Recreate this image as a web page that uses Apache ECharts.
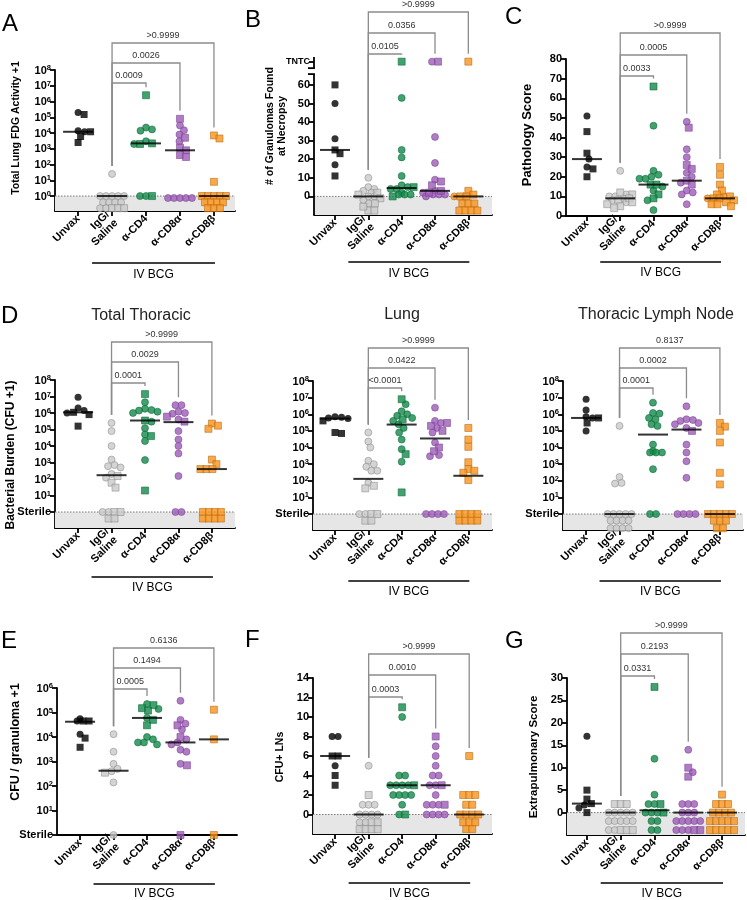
<!DOCTYPE html>
<html><head><meta charset="utf-8">
<script src="https://cdn.jsdelivr.net/npm/echarts@6/dist/echarts.min.js"></script>
<style>html,body{margin:0;padding:0;background:#fff}#c{width:747px;height:900px}</style>
</head><body><div id="c"></div>
<script>
// ---------------- DATA ----------------
const categories = ['Unvax', 'IgG/\nSaline', 'α-CD4', 'α-CD8α', 'α-CD8β'];
const TNTC = 72.5; // axis position of the "TNTC" label in panel B

// Panel A: Total Lung FDG Activity +1 (log scale; values below 1 are the stacked zero rows)
const A_circle = [[2e5, 1.4e4, 1.2e4], [25, 1, 1, 1, 1, 1, 0.4, 0.4, 0.4, 0.4, 0.17, 0.17], [2.2e4, 1.7e4, 1.4e4, 3e3, 2e3, 1, 1], [3e4, 1.5e4, 8e3, 3e3, 0.75, 0.75, 0.75, 0.75, 0.75], []];
const A_square = [[1.5e5, 1.2e4, 6e3, 2.5e3], [0.17, 0.17, 0.17], [2.5e6, 2.2e3, 2e3, 1], [8e4, 5e3, 1.2e3, 8e2, 4e2, 3e2], [7e3, 4.5e3, 8, 1, 1, 1, 1, 1, 0.4, 0.4, 0.4, 0.4, 0.17, 0.17, 0.17]];
const A_median = [1.2e4, 1, 2.2e3, 8e2, 1];
const A_p = ['0.0009', '0.0026', '>0.9999'];

// Panel B: # of granulomas found at necropsy
const B_circle = [[50, 31, 17], [10, 5, 4, 3, 2, 0, 0, -2, -3.8], [53, 25, 21, 11, 6, 5, 4, 4, 2, 1, 1, 1], [TNTC, 32, 18, 9, 3, 2, 1, 1, 1, 0], [0]];
const B_square = [[60, 25, 23, 11], [2, 1, -1, -3.8, -7.6, -7.6, -5.5], [TNTC, 5, 0], [TNTC, 8, 6, 3, 2], [TNTC, 3, 1, 0, 0, -3.8, -3.8, -3.8, -7.6, -7.6, -7.6, -7.6]];
const B_median = [25, 0, 4.5, 3, 0];
const B_p = ['0.0105', '0.0356', '>0.9999'];

// Panel C: Pathology score
const C_circle = [[51, 29, 25], [23, 11, 10, 10, 9, 8, 7], [46, 23, 21, 20, 19, 19, 15, 13, 8, 3], [48, 34, 30, 22, 20, 17, 13, 12, 11, 6], [10, 9]];
const C_square = [[43, 32, 24, 20], [12, 11, 9, 8, 7, 6, 5, 4], [66, 16, 16, 11, 9], [45, 26, 24, 18, 16], [25, 21, 16, 13, 11, 10, 9, 9, 8, 7, 6, 6, 5]];
const C_median = [29, 9, 16, 18, 9];
const C_p = ['0.0033', '0.0005', '>0.9999'];

// Panel D: Total Thoracic CFU +1
const TT_circle = [[9e6, 2e6, 1.4e6, 1e6], [2.5e5, 8e4, 1e4, 1.5e3, 7e2, 6e2, 5e2, 2e2, 1.2e2, 1, 1], [4.5e6, 1.8e6, 1.5e6, 1.4e6, 1.2e6, 1e6, 3e5, 1.2e5, 5e4, 2e4, 1.4e3], [3e6, 3e6, 1.2e6, 1e6, 9e5, 4e5, 8e4, 2.5e4, 1e4, 3.5e3, 1.5e2, 1, 1], []];
const TT_square = [[1.1e6, 8e5, 1.6e5], [1.5e2, 60, 30, 1, 1, 0.4, 0.4], [1.4e7, 3.5e5, 4e4, 20], [6e5, 3e5], [2.3e5, 1.7e5, 1.1e5, 1.5e3, 8e2, 4e2, 4e2, 4e2, 1, 1, 1, 1, 0.4, 0.4, 0.4, 0.4]];
const TT_median = [1.1e6, 1.7e2, 3.5e5, 2.8e5, 4e2];
const TT_p = ['0.0001', '0.0029', '>0.9999'];

// Panel D: Lung CFU +1
const LU_circle = [[7e5, 6.5e5, 6e5, 5.5e5], [8e4, 2.3e4, 1e4, 1.6e3, 1e3, 7e2, 4e2, 4e2, 75, 1, 1], [4e6, 1.5e6, 1e6, 8e5, 6e5, 4e5, 2.5e5, 1.5e5, 8e4, 3e4, 8e3, 1.4e3], [2.5e6, 4e5, 3e5, 1.5e5, 8e4, 2e4, 3.5e3, 3e3, 1, 1, 1, 1], []];
const LU_square = [[4e5, 8e4, 7e4], [50, 35, 1, 1, 0.4, 0.4], [8e6, 5e5, 4e3, 20], [3e5, 2e5, 1e5, 1e4, 6e3], [1.5e5, 3e4, 1.1e4, 1.3e3, 5e2, 4e2, 3e2, 1.1e2, 1, 1, 1, 1, 0.4, 0.4, 0.4, 0.4]];
const LU_median = [5.5e5, 1.3e2, 2.4e5, 3.5e4, 2e2];
const LU_p = ['<0.0001', '0.0422', '>0.9999'];

// Panel D: Thoracic lymph node CFU +1
const LN_circle = [[8e6, 1.8e6, 7e5, 6e5, 1e5], [2e5, 1.7e2, 74, 68, 1, 1, 1, 1, 1, 0.4, 0.4, 0.4, 0.4, 0.14, 0.14, 0.14, 0.14], [5e6, 1.2e6, 1.1e6, 6e5, 5e5, 2.5e5, 2e5, 1.5e4, 6e3, 5e3, 5e3, 5e3, 5e2, 1, 1], [3e6, 5e5, 4.5e5, 4e5, 3e5, 2.5e5, 1.5e5, 1.5e4, 5e3, 1.5e3, 1.5e2, 1, 1, 1, 1], []];
const LN_square = [[6e5, 3e5], [], [], [1e5], [3e5, 1.8e5, 1e5, 2e4, 3e2, 60, 1, 1, 1, 1, 1, 0.4, 0.4, 0.4, 0.14, 0.14]];
const LN_median = [6e5, 1, 6e4, 1.2e5, 1];
const LN_p = ['0.0001', '0.0002', '0.8137'];

// Panel E: CFU / granuloma +1
const E_circle = [[5.5e4, 4.5e4, 1.3e4], [1.3e4, 2.5e3, 8e2, 5e2, 4e2, 1.4e2, 1], [2.2e5, 1.4e5, 6e4, 1e4, 8e3, 6e3, 6e3, 5e3], [3e5, 5e4, 3.5e4, 2e4, 8e3, 6e3, 5e3, 3e3, 2.5e3, 8e2], []];
const E_square = [[4.5e4, 4.5e4, 9e3, 3.8e3], [3.5e2], [2e5, 1.5e5, 1.2e5, 5e4, 3e4], [3e4, 1e4, 7e2, 1], [1.3e5, 8e3, 1]];
const E_median = [4.2e4, 4.2e2, 6e4, 6e3, 8e3];
const E_p = ['0.0005', '0.1494', '0.6136'];

// Panel F: CFU+ LNs
const F_circle = [[8, 8, 5], [5, 1, 1, 1, 0, 0, 0, 0, -0.8, -0.8], [10, 4, 4, 3, 3, 3, 3, 2, 2, 2, 2, 1, 0], [7, 6, 5, 4, 4, 3, 3, 2, 1, 1, 1, 0, 0, 0, 0], []];
const F_square = [[6, 6, 4, 3], [2, -0.8, -0.8, -1.5, -1.5, -1.5, -1.5], [11, 3, 0], [8, 3, 1], [6, 2, 2, 2, 1, 1, 0, 0, 0, 0, -0.8, -0.8, -0.8, -1.5, -1.5]];
const F_median = [6, 0, 3, 3, 0];
const F_p = ['0.0003', '0.0010', '>0.9999'];

// Panel G: Extrapulmonary score
const G_circle = [[17, 1.7, 1], [0, 0, 0, 0, 0, -1.9, -1.9, -1.9, -1.9, -1.9, -3.9, -3.9], [12, 4, 1.9, 1.9, 0, 0, 0, -1.9, -1.9, -3.9, -3.9], [14, 9, 1.9, 1.9, 1.9, 0, 0, 0, -1.9, -1.9, -1.9, -1.9, -1.9, -3.9, -3.9, -3.9], []];
const G_square = [[5, 3, 2, 0], [1.9, 1.9, 1.9, -3.9, -3.9, -3.9], [28, 1.9, 0], [10, 8, -3.9, -3.9], [4, 1.9, 1.9, 1.9, 0, 0, 0, 0, -1.9, -1.9, -1.9, -1.9, -1.9, -3.9, -3.9, -3.9, -3.9, -3.9]];
const G_median = [2, 0, 0.5, 0, 0];
const G_p = ['0.0331', '0.2193', '>0.9999'];

// tick labels
const LOG8_ticks = [0, 1, 2, 3, 4, 5, 6, 7, 8];
const LOG6_ticks = [0, 1, 2, 3, 4, 5, 6];
const B_ticks = [0, 10, 20, 30, 40, 50, 60, TNTC];
const C_ticks = [0, 10, 20, 30, 40, 50, 60, 70, 80];
const F_ticks = [0, 2, 4, 6, 8, 10, 12, 14];
const G_ticks = [0, 5, 10, 15, 20, 25, 30];

// ---------------- LAYOUT / STYLE ----------------
const FONT = '"Liberation Sans", Arial, Helvetica, sans-serif';
const fills = ['#000000', '#c9c9c9', '#13894a', '#9c5cb7', '#f7941d'];
const borders = ['#000000', '#8a8a8a', '#0c6a37', '#7a4395', '#b9680f'];

const panels = [
  {circle: A_circle, square: A_square, median: A_median, p: A_p, log: true, sterile: false, ticks: LOG8_ticks,
   grid: {left: 55, top: 70, width: 180, height: 141}, x: [-0.68, 4.62], y: [-0.95, 8], zero: 0,
   brk: [83, 63, 43], bcg: [263, 275], letter: ['A', 2, 24], name: ['Total Lung FDG Activity +1', 16, 128, 10.5]},
  {circle: B_circle, square: B_square, median: B_median, p: B_p, log: false, ticks: B_ticks, broken: true,
   grid: {left: 314, top: 57, width: 178, height: 158}, x: [-0.63, 4.71], y: [-10, 75], zero: 0,
   brk: [54, 33, 12], bcg: [262, 274], letter: ['B', 245, 20], name: ['# of Granulomas Found\nat Necropsy', 276, 126, 10.5]},
  {circle: C_circle, square: C_square, median: C_median, p: C_p, log: false, ticks: C_ticks,
   grid: {left: 566, top: 59, width: 166, height: 157}, x: [-0.63, 4.36], y: [0, 80], zero: null,
   brk: [76, 55, 33], bcg: [262, 273], letter: ['C', 505, 17], name: ['Pathology Score', 527, 135, 13]},
  {circle: TT_circle, square: TT_square, median: TT_median, p: TT_p, log: true, sterile: true, ticks: LOG8_ticks,
   grid: {left: 55, top: 380, width: 180, height: 148}, x: [-0.69, 4.69], y: [-0.97, 8], zero: 0,
   brk: [383, 362, 342], bcg: [577, 588], letter: ['D', 1, 316], name: ['Bacterial Burden (CFU +1)', 11, 455, 12],
   title: ['Total Thoracic', 141, 316]},
  {circle: LU_circle, square: LU_square, median: LU_median, p: LU_p, log: true, sterile: true, ticks: LOG8_ticks,
   grid: {left: 313, top: 381, width: 179, height: 149}, x: [-0.66, 4.71], y: [-0.96, 8], zero: 0,
   brk: [388, 368, 348], bcg: [581, 592], title: ['Lung', 402, 315]},
  {circle: LN_circle, square: LN_square, median: LN_median, p: LN_p, log: true, sterile: true, ticks: LOG8_ticks,
   grid: {left: 563, top: 381, width: 180, height: 149}, x: [-0.69, 4.69], y: [-0.96, 8], zero: 0,
   brk: [388, 368, 348], bcg: [581, 592], title: ['Thoracic Lymph Node', 656, 315]},
  {circle: E_circle, square: E_square, median: E_median, p: E_p, log: true, sterile: true, ticks: LOG6_ticks,
   grid: {left: 57, top: 688, width: 180, height: 147}, x: [-0.69, 4.69], y: [0, 6], zero: null,
   brk: [689, 668, 648], bcg: [884, 894], letter: ['E', 1, 641], name: ['CFU / granuloma +1', 16, 742, 12.5]},
  {circle: F_circle, square: F_square, median: F_median, p: F_p, log: false, ticks: F_ticks,
   grid: {left: 313, top: 678, width: 179, height: 156}, x: [-0.66, 4.68], y: [-2, 14], zero: 0,
   brk: [697, 675, 654], bcg: [883, 894], letter: ['F', 245, 640], name: ['CFU+ LNs', 280, 757, 10.5]},
  {circle: G_circle, square: G_square, median: G_median, p: G_p, log: false, ticks: G_ticks,
   grid: {left: 567, top: 678, width: 178, height: 157}, x: [-0.59, 4.68], y: [-5, 30], zero: 0,
   brk: [676, 654, 633], bcg: [883, 894], letter: ['G', 505, 641], name: ['Extrapulmonary Score', 534, 757, 11.5]}
];

const MS = 7;        // marker size
const SP = 6.0;      // spacing of identical values in a row
const CD = 6.2;      // collision distance (px)
const MAXHALF = 14;  // half-width a group may occupy before points are allowed to overlap

// simple beeswarm: identical values form centred rows, others are nudged sideways
function swarm(pts, pxY) {
  const order = pts.slice().sort((a, b) => b.v - a.v);
  const placed = [];
  const cands = [0];
  for (let m = 1; m < 120; m++) cands.push(m * 0.5, -m * 0.5);
  let i = 0;
  while (i < order.length) {
    let j = i;
    while (j < order.length && order[j].v === order[i].v) j++;
    const block = order.slice(i, j), n = block.length;
    const base = block.map((p, q) => (q - (n - 1) / 2) * SP);
    const half = (n - 1) / 2 * SP;
    let best = 0, bestD = -1, found = false;
    for (const s of cands) {
      if (s !== 0 && Math.abs(s) + half > MAXHALF) continue;
      let md = Infinity;
      block.forEach((p, q) => placed.forEach(r => {
        const dx = r.o - (base[q] + s), dy = r.y - p.v * pxY;
        md = Math.min(md, Math.sqrt(dx * dx + dy * dy));
      }));
      if (md >= CD) { best = s; found = true; break; }
      if (md > bestD) { bestD = md; best = s; }
    }
    block.forEach((p, q) => { p.o = base[q] + best; p.y = p.v * pxY; placed.push(p); });
    i = j;
  }
  return pts;
}

const grids = [], xAxes = [], yAxes = [], series = [], graphics = [];

panels.forEach((P, k) => {
  const tv = P.log ? (v => Math.log10(v)) : (v => v);
  const G = P.grid;
  const pxY = G.height / (P.y[1] - P.y[0]);
  const pxX = G.width / (P.x[1] - P.x[0]);
  const xpx = i => G.left + (i - P.x[0]) * pxX;
  grids.push({left: G.left, top: G.top, width: G.width, height: G.height});

  xAxes.push({
    gridIndex: k, type: 'value', min: P.x[0], max: P.x[1],
    axisLine: {show: true, onZero: false, lineStyle: {color: '#000', width: 1.8}},
    axisTick: {show: true, customValues: [0, 1, 2, 3, 4], length: 5, lineStyle: {color: '#000', width: 1.8}},
    axisLabel: {customValues: [0, 1, 2, 3, 4], formatter: v => categories[Math.round(v)], rotate: 45, margin: 6,
      fontFamily: FONT, fontWeight: 'bold', fontSize: 11, color: '#000', lineHeight: 12},
    splitLine: {show: false}
  });

  const rich = {
    t: {fontFamily: FONT, fontWeight: 'bold', fontSize: 11, color: '#000'},
    n: {fontFamily: FONT, fontWeight: 'bold', fontSize: 9, color: '#000'},
    b: {fontFamily: FONT, fontWeight: 'bold', fontSize: 11, color: '#000', lineHeight: 12, padding: [4, 0, 0, 0], verticalAlign: 'bottom'},
    s: {fontFamily: FONT, fontWeight: 'bold', fontSize: 7.5, color: '#000', lineHeight: 8, verticalAlign: 'top'}
  };
  const fmt = v => {
    if (P.log) return (P.sterile && v === 0) ? '{t|Sterile}' : '{b|10}{s|' + v + '}';
    if (v === TNTC) return '{n|TNTC}';
    return '{t|' + v + '}';
  };
  yAxes.push({
    gridIndex: k, type: 'value', min: P.y[0], max: P.y[1],
    axisLine: {show: !P.broken, onZero: false, lineStyle: {color: '#000', width: 1.8}},
    axisTick: {show: true, customValues: P.ticks, length: 5, lineStyle: {color: '#000', width: 1.8}},
    axisLabel: {customValues: P.ticks, formatter: fmt, rich: rich, margin: 4},
    splitLine: {show: false}
  });

  // points
  const circ = [], sq = [];
  for (let g = 0; g < 5; g++) {
    const pts = P.circle[g].map(v => ({v: tv(v), c: true})).concat(P.square[g].map(v => ({v: tv(v), c: false})));
    swarm(pts, pxY);
    pts.forEach(p => {
      const item = {value: [g + p.o / pxX, p.v], itemStyle: {color: fills[g], borderColor: borders[g], borderWidth: g === 0 ? 0 : 0.7}};
      (p.c ? circ : sq).push(item);
    });
  }
  const common = {xAxisIndex: k, yAxisIndex: k, silent: true, animation: false, clip: false};
  series.push(Object.assign({type: 'scatter', symbol: 'circle', symbolSize: MS, data: circ, z: 3}, common));
  series.push(Object.assign({type: 'scatter', symbol: 'rect', symbolSize: MS, data: sq, z: 3}, common));
  series.push(Object.assign({type: 'scatter', symbol: 'rect', symbolSize: [30, 2], itemStyle: {color: '#000'},
    data: P.median.map((m, g) => [g, tv(m)]), z: 4}, common));

  // decorations: grey zero region, significance brackets, broken axis
  const gmax = [0, 1, 2, 3, 4].map(g => Math.max(...P.circle[g].concat(P.square[g]).map(tv)));
  const deco = [[0, 0], [0, 0], [0, 0], [0, 0]];
  if (P.broken) deco.push([0, 0]);
  series.push(Object.assign({
    type: 'custom', z: 1, data: deco,
    renderItem: function (params, api) {
      const i = params.dataIndex, cs = params.coordSys;
      if (i === 0) {
        if (P.zero === null) return null;
        const zy = api.coord([0, P.zero])[1];
        const bottom = cs.y + cs.height;
        return {type: 'group', children: [
          {type: 'rect', shape: {x: cs.x, y: zy, width: cs.width, height: bottom - zy}, style: {fill: '#e6e6e6'}},
          {type: 'line', shape: {x1: cs.x, y1: zy, x2: cs.x + cs.width, y2: zy}, style: {stroke: '#7a7a7a', lineWidth: 1, lineDash: [1.5, 1.5]}}
        ]};
      }
      if (i <= 3) {
        const target = i + 1;
        const xl = api.coord([1, 0])[0], xr = api.coord([target, 0])[0];
        const yl = P.brk[i - 1];
        const yle = api.coord([0, gmax[1]])[1] - 8;
        const yre = api.coord([0, gmax[target]])[1] - 8;
        return {type: 'group', children: [
          {type: 'polyline', shape: {points: [[xl, yle], [xl, yl], [xr, yl], [xr, yre]]}, style: {stroke: '#8c8c8c', lineWidth: 1.3, fill: null}},
          {type: 'text', x: (xl + xr) / 2, y: yl - 7, style: {text: P.p[i - 1], fill: '#333', fontSize: 9, fontFamily: FONT, textAlign: 'center', textVerticalAlign: 'middle'}}
        ]};
      }
      // broken y axis (panel B)
      const x0 = cs.x, yb = cs.y + cs.height, yt = cs.y;
      const ya = api.coord([0, 65.8])[1], yc = api.coord([0, 69])[1];
      const st = {stroke: '#000', lineWidth: 1.8};
      return {type: 'group', children: [
        {type: 'line', shape: {x1: x0, y1: yb, x2: x0, y2: ya}, style: st},
        {type: 'line', shape: {x1: x0 - 6, y1: ya, x2: x0 + 0.9, y2: ya}, style: st},
        {type: 'line', shape: {x1: x0, y1: yc, x2: x0, y2: yt}, style: st},
        {type: 'line', shape: {x1: x0 - 6, y1: yc, x2: x0 + 0.9, y2: yc}, style: st}
      ]};
    }
  }, common));

  // IV BCG bar
  const x1 = xpx(1) - 20, x2 = xpx(4) + 1;
  graphics.push({type: 'line', shape: {x1: x1, y1: P.bcg[0], x2: x2, y2: P.bcg[0]}, style: {stroke: '#000', lineWidth: 1.5}});
  graphics.push({type: 'text', x: (x1 + x2) / 2, y: P.bcg[1], style: {text: 'IV BCG', fill: '#000', font: '12px ' + FONT, textAlign: 'center', textVerticalAlign: 'middle'}});
  if (P.letter) graphics.push({type: 'text', x: P.letter[1], y: P.letter[2], style: {text: P.letter[0], fill: '#000', font: '24px ' + FONT, textAlign: 'left', textVerticalAlign: 'middle'}});
  if (P.name) graphics.push({type: 'text', x: P.name[1], y: P.name[2], rotation: Math.PI / 2,
    style: {text: P.name[0], fill: '#000', font: 'bold ' + P.name[3] + 'px ' + FONT, textAlign: 'center', textVerticalAlign: 'middle', lineHeight: 12}});
  if (P.title) graphics.push({type: 'text', x: P.title[1], y: P.title[2], style: {text: P.title[0], fill: '#222', font: '16px ' + FONT, textAlign: 'center', textVerticalAlign: 'middle'}});
});

const chart = echarts.init(document.getElementById('c'), null, {width: 747, height: 900});
chart.setOption({
  animation: false,
  backgroundColor: '#fff',
  grid: grids, xAxis: xAxes, yAxis: yAxes, series: series,
  graphic: graphics
});
</script>
</body></html>
